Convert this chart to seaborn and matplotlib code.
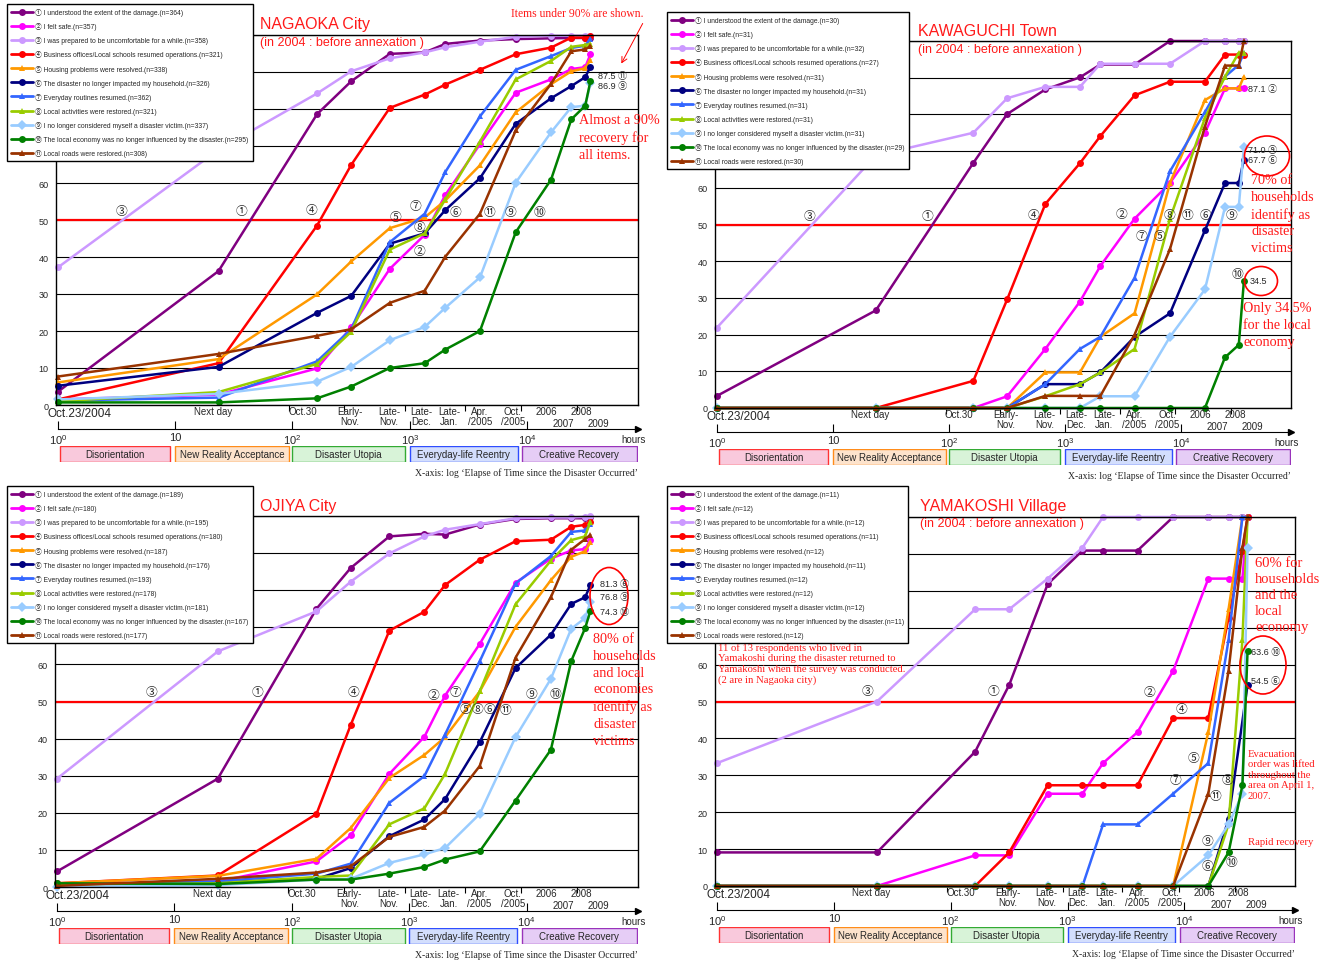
import numpy as np
import pandas as pd
import matplotlib
matplotlib.use("Agg")
import matplotlib.pyplot as plt
from matplotlib.lines import Line2D
from matplotlib.patches import Ellipse
from matplotlib.ticker import NullLocator
import seaborn as sns

sns.set_style("white")
plt.rcParams["font.family"] = ["Liberation Sans", "Noto Sans CJK JP"]
plt.rcParams["mathtext.default"] = "regular"

W, H = 1330, 962
RED = "#ff1a1a"
SERIF = ["Liberation Serif", "Noto Sans CJK JP"]
nan = np.nan

# survey time points, hours after the quake (log axis)
hours = [1, 23.4, 162, 317, 676, 1343, 2015, 3973, 8020, 16040, 23900, 31400, 34750]

marks = ["①", "②", "③", "④", "⑤", "⑥", "⑦", "⑧", "⑨", "⑩", "⑪"]
items = ["I understood the extent of the damage.",
         "I felt safe.",
         "I was prepared to be uncomfortable for a while.",
         "Business offices/Local schools resumed operations.",
         "Housing problems were resolved.",
         "The disaster no longer impacted my household.",
         "Everyday routines resumed.",
         "Local activities were restored.",
         "I no longer considered myself a disaster victim.",
         "The local economy was no longer influenced by the disaster.",
         "Local roads were restored."]
colors = ["#800080", "#ff00ff", "#cc99ff", "#ff0000", "#ff9900", "#000080",
          "#3366ff", "#99cc00", "#99ccff", "#008000", "#993300"]
markers = ["o", "o", "o", "o", "^", "o", "^", "^", "D", "o", "^"]

# labels under the plot
cat_labels = ["Next day", "Oct.30", "Early-\nNov.", "Late-\nNov.", "Late-\nDec.", "Late-\nJan.",
              "Apr.\n/2005", "Oct.\n/2005", "2006", "2007", "2008", "2009"]
cat_hours = [21, 122, 309, 664, 1245, 2158, 3963, 7580, 14760, 20600, 29150, 41000]
cat_rows = [0, 0, 0, 0, 0, 0, 0, 0, 0, 1, 0, 1]
sep_ticks = [10 ** 1.97, 10 ** 2.44, 10 ** 2.96, 10 ** 3.47, 10 ** 3.95, 10 ** 4.43]

# phases of recovery (log10 hours)
phases = ["Disorientation", "New Reality Acceptance", "Disaster Utopia",
          "Everyday-life Reentry", "Creative Recovery"]
phase_start = [0.02, 1.0, 2.0, 3.0, 3.96]
phase_end = [0.955, 1.97, 2.96, 3.92, 4.935]
phase_fill = ["#f9c9dc", "#fde3cc", "#d8f3d8", "#d3defd", "#e6cdf6"]
phase_edge = ["#ff3333", "#ff8c1a", "#33aa33", "#2f4dff", "#9933bb"]

# NAGAOKA City
nagaoka_n = [364, 357, 358, 321, 338, 326, 362, 321, 337, 295, 308]
nagaoka = [
    [3.6, 36.2, 78.6, 87.5, 94.9, 95.3, 97.6, 98.5, 98.9, 99.1, 99.2, 99.2, 99.3],
    [1.5, 2.8, 9.9, 21.0, 36.8, 46.0, 56.8, 70.5, 84.4, 88.0, 90.8, 91.3, 94.8],
    [37.2, 69.0, 84.2, 90.2, 93.7, 95.3, 96.7, 98.2, 99.5, 99.8, 99.8, 99.8, 99.8],
    [1.5, 11.3, 48.5, 64.9, 80.3, 83.9, 86.6, 90.6, 94.8, 96.6, 99.3, 99.3, 99.6],
    [6.1, 12.4, 29.9, 38.8, 47.8, 50.7, 55.3, 64.8, 79.1, 86.7, 90.2, 91.0, 93.3],
    [5.2, 10.3, 24.9, 29.5, 43.6, 46.4, 52.7, 61.3, 76.0, 82.9, 86.2, 88.6, 91.4],
    [1.2, 2.0, 11.8, 20.5, 44.0, 51.7, 63.0, 78.0, 90.6, 94.3, 96.5, 97.1, 99.0],
    [1.0, 3.5, 11.1, 19.8, 42.0, 46.4, 55.6, 71.2, 88.0, 93.0, 96.8, 97.3, 97.6],
    [1.5, 3.0, 6.3, 10.3, 17.5, 21.1, 26.3, 34.5, 60.1, 73.7, 80.5, 80.9, 86.9],
    [0.7, 0.7, 1.8, 5.0, 10.0, 11.3, 15.0, 20.0, 46.7, 60.9, 77.2, 80.9, 87.5],
    [7.7, 13.8, 18.7, 20.5, 27.6, 30.9, 40.1, 51.7, 74.2, 86.8, 95.6, 96.1, 97.0],
]

# KAWAGUCHI Town
kawaguchi_n = [30, 31, 32, 27, 31, 31, 31, 31, 31, 29, 30]
kawaguchi = [
    [3.3, 26.6, 66.8, 80.1, 86.8, 90.1, 93.6, 93.6, 100, 100, 100, 100, 100],
    [0, 0, 0, 3.2, 16.1, 29.0, 38.7, 51.6, 61.3, 75.0, 87.1, 87.1, 87.1],
    [21.9, 68.8, 75.0, 84.4, 87.5, 87.5, 93.8, 93.8, 93.8, 100, 100, 100, 100],
    [0, 0, 7.4, 29.6, 55.6, 66.7, 74.1, 85.2, 88.9, 88.9, 96.3, 96.3, 96.3],
    [0, 0, 0, 0, 9.7, 9.7, 19.4, 25.8, 61.3, 83.9, 87.1, 87.1, 90.3],
    [0, 0, 0, 0, 6.5, 6.5, 9.7, 19.4, 25.8, 48.4, 61.3, 61.3, 67.7],
    [0, 0, 0, 0, 6.5, 16.1, 19.4, 35.5, 64.5, 80.6, 90.3, 93.5, 96.8],
    [0, 0, 0, 0, 3.2, 6.5, 9.7, 16.1, 51.6, 79.0, 90.3, 96.8, 96.8],
    [0, 0, 0, 0, 0, 0, 3.2, 3.2, 19.4, 32.3, 54.8, 54.8, 71.0],
    [0, 0, 0, 0, 0, 0, 0, 0, 0, 0, 13.8, 17.2, 34.5],
    [0, 0, 0, 0, 3.3, 3.3, 3.3, 20.0, 43.3, 76.7, 93.3, 93.3, 100],
]

# OJIYA City
ojiya_n = [189, 180, 195, 180, 187, 176, 193, 178, 181, 167, 177]
ojiya = [
    [4.2, 29.2, 75.0, 86.0, 94.5, 95.2, 95.0, 97.7, 99.2, 99.4, 99.4, 99.4, 99.6],
    [0.5, 1.5, 6.9, 13.9, 30.5, 40.5, 51.6, 65.5, 82.0, 88.5, 90.7, 91.1, 93.6],
    [29.2, 63.5, 74.3, 82.3, 89.9, 94.5, 96.3, 97.8, 99.4, 99.6, 99.6, 99.8, 100],
    [1.0, 3.1, 19.7, 43.7, 69.1, 74.2, 81.4, 88.2, 93.2, 93.6, 97.1, 97.6, 98.3],
    [1.0, 3.0, 7.6, 15.9, 29.4, 35.6, 40.4, 52.7, 70.1, 82.7, 89.0, 90.5, 92.9],
    [0.5, 1.3, 2.2, 5.1, 13.7, 18.2, 23.7, 39.0, 59.0, 68.0, 76.3, 78.1, 81.3],
    [0.5, 1.5, 3.6, 6.3, 22.7, 29.9, 41.1, 60.8, 81.8, 89.2, 95.7, 96.1, 97.8],
    [0.5, 1.0, 2.7, 3.1, 16.9, 21.2, 30.5, 52.7, 76.2, 88.0, 93.5, 94.5, 98.5],
    [0.0, 0.5, 2.0, 2.2, 6.5, 8.8, 10.5, 19.7, 40.4, 56.1, 69.6, 72.5, 76.8],
    [1.0, 0.8, 2.0, 2.0, 3.6, 5.4, 7.4, 9.6, 23.3, 37.0, 60.9, 69.8, 74.3],
    [0.3, 2.2, 3.9, 5.6, 13.5, 16.2, 20.6, 32.6, 61.8, 78.1, 90.9, 93.8, 94.9],
]

# YAMAKOSHI Village
yamakoshi_n = [11, 12, 12, 11, 12, 11, 12, 12, 12, 11, 12]
yamakoshi = [
    [9.1, 9.1, 36.4, 54.5, 81.8, 90.9, 90.9, 90.9, 100, 100, 100, 100, 100],
    [0, 0, 8.3, 8.3, 25.0, 25.0, 33.3, 41.7, 58.3, 83.3, 83.3, 83.3, 100],
    [33.3, 50.0, 75.0, 75.0, 83.3, 91.7, 100, 100, 100, 100, 100, 100, 100],
    [0, 0, 0, 9.1, 27.3, 27.3, 27.3, 27.3, 45.5, 45.5, 72.7, 90.9, 100],
    [0, 0, 0, 0, 0, 0, 0, 0, 0, 41.7, 75.0, 100, 100],
    [0, 0, 0, 0, 0, 0, 0, 0, 0, 0, 18.2, nan, 54.5],
    [0, 0, 0, 0, 0, 0, 16.7, 16.7, 25.0, 33.3, 66.7, 100, 100],
    [0, 0, 0, 0, 0, 0, 0, 0, 0, 0, 16.7, 66.7, 100],
    [0, 0, 0, 0, 0, 0, 0, 0, 0, 8.3, 16.7, 25.0, 91.7],
    [0, 0, 0, 0, 0, 0, 0, 0, 0, 0, 9.1, 27.3, 63.6],
    [0, 0, 0, 0, 0, 0, 0, 0, 0, 25.0, 58.3, 91.7, 100],
]

XLIM = (10 ** -0.017, 10 ** 4.947)

fig = plt.figure(figsize=(W / 100, H / 100), dpi=100)


def fpx(x, y):
    return x / W, 1 - y / H


def panel(box, data, ns, leg_xy):
    l, t, r, b = box
    labels = [f"{m} {s}(n={n})" for m, s, n in zip(marks, items, ns)]
    df = pd.DataFrame({"hours": np.tile(hours, 11),
                       "pct": np.ravel(data),
                       "item": np.repeat(labels, len(hours))}).dropna()

    ax = fig.add_axes([l / W, 1 - b / H, (r - l) / W, (b - t) / H])
    ax.axhline(50, color="red", lw=1.6, zorder=1.5)
    sns.lineplot(data=df, x="hours", y="pct", hue="item", style="item",
                 hue_order=labels, style_order=labels,
                 palette=dict(zip(labels, colors)), markers=dict(zip(labels, markers)),
                 dashes=False, estimator=None, sort=False, legend=False,
                 linewidth=1.8, markersize=5, markeredgewidth=0, clip_on=False, ax=ax)
    ax.set_xscale("log")
    ax.set_xlim(*XLIM)
    ax.set_ylim(0, 100)
    yt = list(range(0, 101, 10))
    ax.set_yticks(yt)
    # the upper labels sit under the legend box
    ax.set_yticklabels([str(v) if v <= 60 else "" for v in yt])
    ax.set_xticks(sep_ticks)
    ax.set_xticklabels([])
    ax.xaxis.set_minor_locator(NullLocator())
    ax.set_xlabel("")
    ax.set_ylabel("")
    ax.tick_params(axis="y", left=False, labelsize=6.5, pad=2)
    ax.tick_params(axis="x", bottom=True, direction="out", length=4, width=0.8, color="black")
    ax.yaxis.grid(True, color="black", lw=0.8)
    ax.xaxis.grid(False)
    ax.set_axisbelow(True)
    for s in ax.spines.values():
        s.set_color("black")
        s.set_linewidth(1)

    ax.annotate("Oct.23/2004", xy=(0, 0), xycoords="axes fraction", xytext=(-9, -2),
                textcoords="offset pixels", ha="left", va="top", fontsize=8.5)
    for lab, h, row in zip(cat_labels, cat_hours, cat_rows):
        ax.annotate(lab, xy=(h, 0), xycoords=("data", "axes fraction"),
                    xytext=(0, -1 - 12 * row), textcoords="offset pixels",
                    ha="center", va="top", fontsize=7, linespacing=1.05,
                    annotation_clip=False)

    # log time axis
    lax = fig.add_axes([l / W, 1 - (b + 24) / H, (r - l) / W, 0.0001])
    lax.patch.set_visible(False)
    lax.set_xscale("log")
    lax.set_xlim(*XLIM)
    for s in ["top", "left", "right"]:
        lax.spines[s].set_visible(False)
    lax.spines["bottom"].set_color("black")
    lax.spines["bottom"].set_bounds(1, XLIM[1])
    lax.set_yticks([])
    lax.set_xticks([1, 10, 100, 1000, 10000])
    lax.set_xticklabels(["$10^0$", "10", "$10^2$", "$10^3$", "$10^4$"])
    lax.xaxis.set_minor_locator(NullLocator())
    lax.tick_params(axis="x", bottom=True, direction="in", length=6, width=0.8,
                    color="black", labelsize=8, pad=2)
    lax.plot([XLIM[1]], [0], marker=">", color="black", ms=4, clip_on=False)
    lax.annotate("hours", xy=(1, 0), xycoords="axes fraction", xytext=(8, -10),
                 textcoords="offset pixels", ha="right", va="center", fontsize=7)

    # phase boxes
    bax = fig.add_axes([l / W, 1 - (b + 57) / H, (r - l) / W, 16 / H])
    bax.set_xscale("log")
    bax.set_xlim(*XLIM)
    bax.set_ylim(0, 1)
    bax.axis("off")
    st = 10 ** np.array(phase_start)
    en = 10 ** np.array(phase_end)
    bax.barh(0.5, en - st, left=st, height=1, color=phase_fill, edgecolor=phase_edge, lw=1)
    for name, s0, e0 in zip(phases, st, en):
        bax.text(np.sqrt(s0 * e0), 0.48, name, ha="center", va="center", fontsize=7)

    fig.text(r / W, 1 - (b + 67) / H,
             "X-axis: log \u2018Elapse of Time since the Disaster Occurred\u2019",
             ha="right", va="center", fontsize=7, family=SERIF)

    handles = [Line2D([], [], color=c, marker=m, lw=2, ms=5, mew=0)
               for c, m in zip(colors, markers)]
    leg = fig.legend(handles, labels, loc="upper left", bbox_to_anchor=fpx(*leg_xy),
                     bbox_transform=fig.transFigure, borderaxespad=0, frameon=True,
                     fancybox=False, edgecolor="black", framealpha=1,
                     prop={"size": 4.9}, handlelength=3.2,
                     handletextpad=0.35, labelspacing=0.9, borderpad=0.6)
    leg.get_frame().set_linewidth(1)
    return ax


panel((56, 36, 638, 406), nagaoka, nagaoka_n, (7, 5))
panel((715, 42, 1291, 409), kawaguchi, kawaguchi_n, (667, 13))
panel((55, 517, 638, 888), ojiya, ojiya_n, (7, 487))
panel((715, 518, 1295, 887), yamakoshi, yamakoshi_n, (667, 487))

# titles
for txt, x, y, fs in [("NAGAOKA City", 260, 25, 11.5), ("(in 2004 : before annexation )", 260, 43, 9),
                      ("KAWAGUCHI Town", 918, 32, 11.5), ("(in 2004 : before annexation )", 918, 50, 9),
                      ("OJIYA City", 260, 507, 11.5),
                      ("YAMAKOSHI Village", 920, 507, 11.5), ("(in 2004 : before annexation )", 920, 524, 9)]:
    fig.text(*fpx(x, y), txt, color=RED, fontsize=fs, ha="left", va="center")

# circled item numbers next to the curves
circ = [("③", 121, 212), ("①", 241, 212), ("④", 312, 211), ("⑤", 395, 218), ("⑦", 416, 207),
        ("⑧", 420, 228), ("②", 420, 252), ("⑥", 455, 213), ("⑪", 489, 213), ("⑨", 511, 213),
        ("⑩", 539, 213),
        ("③", 809, 217), ("①", 928, 217), ("④", 1033, 216), ("②", 1122, 215), ("⑦", 1141, 237),
        ("⑤", 1159, 237), ("⑧", 1170, 216), ("⑪", 1188, 216), ("⑥", 1206, 216), ("⑨", 1231, 216),
        ("⑩", 1237, 275),
        ("③", 152, 693), ("①", 257, 693), ("④", 354, 693), ("②", 434, 696), ("⑦", 456, 693),
        ("⑤", 465, 710), ("⑧", 477, 710), ("⑥", 489, 710), ("⑪", 506, 711), ("⑨", 532, 695),
        ("⑩", 555, 695),
        ("③", 867, 692), ("①", 994, 692), ("②", 1150, 693), ("④", 1181, 710), ("⑤", 1194, 759),
        ("⑦", 1176, 781), ("⑪", 1215, 797), ("⑧", 1227, 781), ("⑨", 1207, 842), ("⑥", 1207, 867),
        ("⑩", 1231, 863)]
for txt, x, y in circ:
    fig.text(*fpx(x, y), txt, fontsize=8.5, ha="center", va="center")

vals = [("87.5 ⑪", 598, 77), ("86.9 ⑨", 598, 87),
        ("87.1 ②", 1248, 90), ("71.0 ⑨", 1248, 151), ("67.7 ⑥", 1248, 161), ("34.5", 1250, 282),
        ("81.3 ⑥", 600, 585), ("76.8 ⑨", 600, 598), ("74.3 ⑩", 600, 612),
        ("63.6 ⑩", 1251, 652), ("54.5 ⑥", 1251, 682)]
for txt, x, y in vals:
    fig.text(*fpx(x, y), txt, fontsize=6.5, ha="left", va="center")

for cx, cy, w, h in [(1267, 157, 45, 40), (1261, 282, 33, 29), (609, 597, 38, 57), (1263, 666, 46, 58)]:
    fig.add_artist(Ellipse(fpx(cx, cy), w / W, h / H, transform=fig.transFigure,
                           fill=False, edgecolor="red", lw=1.2))

# red notes (x, top y, size, line spacing)
notes = [("Items under 90% are shown.", 511, 8, 8.4, 1.15),
         ("Almost a 90%\nrecovery for\nall items.", 579, 114, 10.2, 1.38),
         ("70% of\nhouseholds\nidentify as\ndisaster\nvictims", 1251, 174, 10.2, 1.38),
         ("Only 34.5%\nfor the local\neconomy", 1243, 302, 10.2, 1.38),
         ("80% of\nhouseholds\nand local\neconomies\nidentify as\ndisaster\nvictims", 593, 633, 10.2, 1.38),
         ("60% for\nhouseholds\nand the\nlocal\neconomy", 1255, 557, 10.5, 1.3),
         ("11 of 13 respondents who lived in\nYamakoshi during the disaster returned to\n"
          "Yamakoshi when the survey was conducted.\n(2 are in Nagaoka city)", 718, 643, 7.7, 1.2),
         ("Evacuation\norder was lifted\nthroughout the\narea on April 1,\n2007.", 1248, 750, 7.7, 1.2),
         ("Rapid recovery", 1248, 838, 7.7, 1.2)]
for txt, x, y, fs, ls in notes:
    fig.text(*fpx(x, y), txt, color=RED, fontsize=fs, ha="left", va="top",
             family=SERIF, linespacing=ls)

ax0 = fig.axes[0]
for (x1, y1), (x2, y2) in [((644, 22), (620, 67)), ((1275, 808), (1275, 835))]:
    ax0.annotate("", xy=(x2, H - y2), xycoords="figure pixels", xytext=(x1, H - y1),
                 textcoords="figure pixels", annotation_clip=False,
                 arrowprops=dict(arrowstyle="->", color="red", lw=0.7))

fig.savefig("out.png", dpi=100)
